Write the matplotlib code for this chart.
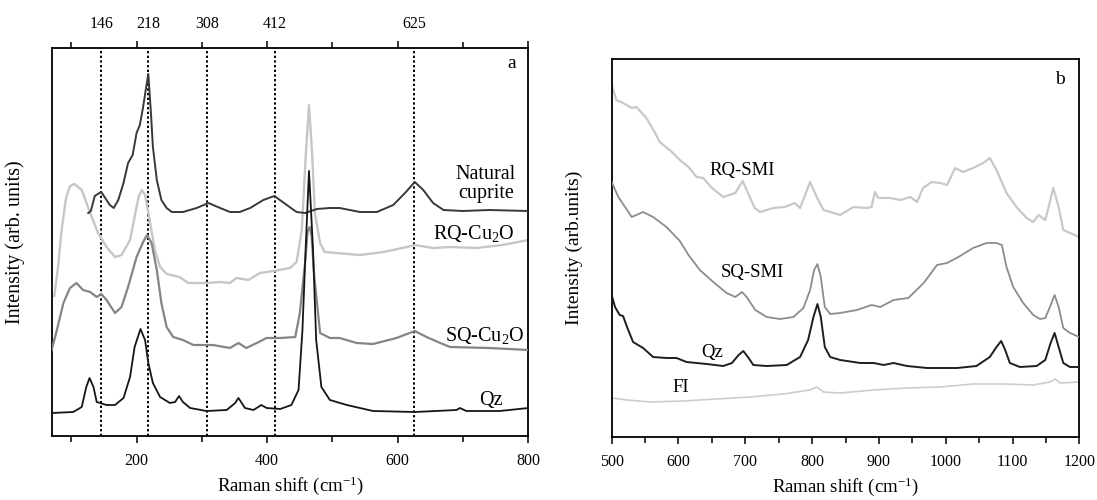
import matplotlib
matplotlib.use("Agg")
import matplotlib.pyplot as plt
from matplotlib.ticker import MultipleLocator

plt.rcParams['font.family'] = ['Liberation Serif', 'DejaVu Serif']
plt.rcParams['mathtext.fontset'] = 'custom'
plt.rcParams['mathtext.rm'] = 'Liberation Serif'
plt.rcParams['mathtext.it'] = 'Liberation Serif:italic'

# ---------------- panel a: Cu2O reference spectra ----------------
cuprite_x = [126, 130, 136, 143, 146, 152, 159, 165, 172, 180, 187, 194, 200, 205, 210,
             214, 218, 222, 225, 231, 238, 246, 254, 271, 292, 310, 328, 343, 358, 374,
             394, 411, 430, 445, 458, 476, 496, 511, 542, 568, 593, 611, 626, 639, 654,
             670, 700, 740, 800]
cuprite_y = [223, 225, 240, 243, 244, 238, 231, 228, 236, 253, 273, 281, 303, 311, 329,
             346, 362, 323, 289, 256, 236, 228, 224, 224, 228, 233, 228, 224, 224, 228,
             236, 240, 231, 224, 223, 227, 228, 228, 224, 224, 231, 243, 254, 246, 233,
             226, 225, 226, 225]

rq_x = [74, 80, 85, 92, 98, 105, 116, 129, 141, 154, 167, 177, 190, 203, 208, 213, 220,
        228, 236, 246, 266, 279, 307, 328, 343, 353, 371, 389, 409, 435, 445, 453, 459,
        464, 469, 473, 481, 488, 506, 542, 578, 614, 626, 654, 680, 720, 760, 800]
rq_y = [140, 170, 205, 238, 250, 252, 246, 223, 203, 189, 179, 181, 196, 239, 246, 241,
        216, 186, 169, 162, 159, 153, 153, 154, 153, 158, 156, 163, 165, 168, 174, 206,
        280, 331, 280, 223, 193, 184, 183, 181, 184, 189, 191, 188, 189, 188, 191, 196]

sq_x = [70, 78, 88, 98, 108, 118, 129, 139, 146, 154, 167, 177, 187, 200, 210, 216, 223,
        231, 238, 246, 256, 271, 287, 317, 343, 356, 368, 384, 399, 420, 443, 450, 458,
        462, 465, 468, 472, 481, 496, 511, 537, 562, 598, 626, 644, 665, 680, 740, 800]
sq_y = [86, 106, 133, 148, 153, 146, 144, 139, 142, 136, 123, 129, 149, 179, 194, 201, 193,
        166, 133, 109, 99, 96, 91, 91, 88, 93, 88, 93, 98, 98, 99, 123, 173, 205, 209, 200,
        160, 103, 98, 98, 93, 92, 98, 105, 99, 93, 89, 88, 86]

qz_a_x = [70, 103, 116, 123, 128, 134, 139, 154, 167, 180, 190, 197, 206, 213, 218, 225,
          236, 251, 259, 265, 271, 282, 307, 338, 351, 356, 366, 379, 391, 399, 420, 437,
          448, 454, 459, 464, 470, 475, 483, 496, 522, 562, 626, 690, 695, 705, 756, 800]
qz_a_y = [23, 24, 29, 49, 58, 49, 34, 31, 31, 38, 59, 89, 107, 96, 73, 53, 39, 33, 34,
          40, 34, 28, 25, 26, 33, 38, 28, 26, 31, 28, 27, 31, 46, 106, 189, 265, 189, 96,
          49, 36, 31, 25, 24, 26, 28, 25, 25, 28]

marker_pos = [146, 218, 308, 412, 625]

# ---------------- panel b: inclusion spectra ----------------
rqsmi_x = [500, 507, 517, 530, 537, 552, 565, 572, 590, 602, 615, 627, 637, 650, 667, 685,
           696, 704, 714, 722, 742, 759, 774, 782, 797, 807, 817, 832, 842, 862, 882, 889,
           894, 899, 917, 932, 947, 957, 966, 979, 992, 1002, 1014, 1026, 1041, 1056, 1066,
           1076, 1091, 1106, 1121, 1131, 1139, 1149, 1154, 1161, 1169, 1176, 1186, 1200]
rqsmi_y = [352, 337, 334, 329, 330, 319, 304, 295, 285, 277, 270, 260, 259, 249, 240, 244,
           256, 244, 229, 225, 229, 230, 234, 229, 255, 240, 227, 224, 222, 230, 229, 230,
           245, 239, 239, 237, 240, 235, 249, 255, 254, 252, 269, 265, 269, 274, 279, 267,
           244, 230, 219, 215, 222, 217, 230, 249, 230, 207, 204, 200]

sqsmi_x = [500, 510, 520, 530, 547, 562, 582, 602, 615, 632, 652, 672, 685, 695, 702, 715,
           732, 752, 772, 787, 797, 803, 808, 813, 819, 827, 842, 867, 889, 902, 922, 944,
           967, 987, 1002, 1019, 1041, 1061, 1076, 1084, 1091, 1101, 1116, 1131, 1141,
           1149, 1156, 1163, 1169, 1176, 1186, 1200]
sqsmi_y = [255, 240, 230, 220, 225, 220, 210, 196, 182, 167, 155, 144, 140, 145, 140, 127,
           120, 118, 120, 129, 147, 167, 173, 160, 130, 123, 124, 127, 132, 130, 137, 139,
           154, 172, 174, 180, 189, 194, 194, 192, 170, 150, 134, 122, 118, 119, 130, 142,
           130, 109, 104, 100]

qz_b_x = [500, 505, 512, 517, 523, 532, 547, 562, 582, 597, 612, 642, 667, 680, 690, 697,
          705, 712, 732, 762, 782, 794, 802, 808, 813, 819, 827, 842, 872, 892, 907, 922,
          942, 972, 1017, 1046, 1066, 1076, 1083, 1089, 1096, 1111, 1136, 1149, 1157, 1163,
          1169, 1176, 1186, 1200]
qz_b_y = [142, 130, 122, 121, 110, 95, 89, 80, 79, 79, 75, 73, 71, 74, 82, 86, 79, 72, 71,
          72, 80, 97, 120, 133, 120, 90, 80, 77, 74, 74, 72, 74, 71, 69, 69, 71, 80, 90, 96,
          87, 74, 70, 71, 77, 94, 104, 90, 74, 70, 70]

fi_x = [500, 523, 557, 607, 657, 707, 757, 797, 807, 817, 842, 892, 942, 992, 1041, 1091,
        1131, 1156, 1164, 1171, 1200]
fi_y = [39, 37, 35, 36, 38, 40, 43, 47, 50, 45, 44, 47, 49, 50, 53, 53, 52, 55, 58, 54, 55]

# ---------------- figure ----------------
fig = plt.figure(figsize=(10.97, 5.0), dpi=100)
ax_a = fig.add_axes([0.0471, 0.128, 0.4346, 0.776])
ax_b = fig.add_axes([0.5576, 0.126, 0.4263, 0.756])

for ax in (ax_a, ax_b):
    for sp in ax.spines.values():
        sp.set_linewidth(1.3)
    ax.set_yticks([])
    ax.tick_params(axis='x', which='major', direction='out', length=5, width=1.1,
                   labelsize=11.5, pad=7)
    ax.tick_params(axis='x', which='minor', direction='out', length=4, width=1.1)

# panel a
for xp in marker_pos:
    ax_a.axvline(xp, color='black', lw=1.4, ls=(0, (1.2, 1.2)), zorder=1)
ax_a.plot(rq_x, rq_y, color='#c6c6c6', lw=1.7, zorder=2)
ax_a.plot(sq_x, sq_y, color='#858585', lw=1.6, zorder=3)
ax_a.plot(cuprite_x, cuprite_y, color='#383838', lw=1.4, zorder=4)
ax_a.plot(qz_a_x, qz_a_y, color='#151515', lw=1.3, zorder=5)
ax_a.set_xlim(70, 800)
ax_a.set_ylim(0, 388)
ax_a.xaxis.set_major_locator(MultipleLocator(200))
ax_a.xaxis.set_minor_locator(MultipleLocator(100))
ax_a.tick_params(axis='x', which='both', top=True)

tr_a = ax_a.get_xaxis_transform()
for xp in marker_pos:
    ax_a.text(xp, 1.062, str(xp), transform=tr_a, ha='center', va='center', fontsize=11.5)

ax_a.text(735, 252, 'Natural\ncuprite', ha='center', va='center', fontsize=14.5,
          multialignment='center', linespacing=1.0)
ax_a.text(716, 203, r'RQ-Cu$_\mathregular{2}$O', ha='center', va='center', fontsize=14.5)
ax_a.text(733, 101, r'SQ-Cu$_\mathregular{2}$O', ha='center', va='center', fontsize=14.5)
ax_a.text(743, 36, 'Qz', ha='center', va='center', fontsize=14.5)
ax_a.text(774, 372, 'a', ha='center', va='center', fontsize=14)
ax_a.set_xlabel(r'Raman shift (cm$^{\mathregular{-1}}$)', fontsize=13.5, labelpad=4)
ax_a.set_ylabel('Intensity (arb. units)', fontsize=14.5)
ax_a.yaxis.set_label_coords(-0.055, 0.5)

# panel b
ax_b.plot(fi_x, fi_y, color='#cdcdcd', lw=1.2, zorder=2)
ax_b.plot(rqsmi_x, rqsmi_y, color='#c8c8c8', lw=1.6, zorder=2)
ax_b.plot(sqsmi_x, sqsmi_y, color='#8c8c8c', lw=1.3, zorder=3)
ax_b.plot(qz_b_x, qz_b_y, color='#1e1e1e', lw=1.4, zorder=4)
ax_b.set_xlim(500, 1200)
ax_b.set_ylim(0, 378)
ax_b.xaxis.set_major_locator(MultipleLocator(100))
ax_b.xaxis.set_minor_locator(MultipleLocator(50))

ax_b.text(695, 267, 'RQ-SMI', ha='center', va='center', fontsize=13.5)
ax_b.text(711, 164, 'SQ-SMI', ha='center', va='center', fontsize=13.5)
ax_b.text(650, 84, 'Qz', ha='center', va='center', fontsize=13.5)
ax_b.text(603, 49, 'FI', ha='center', va='center', fontsize=13.5)
ax_b.text(1171, 358, 'b', ha='center', va='center', fontsize=14)
ax_b.set_xlabel(r'Raman shift (cm$^{\mathregular{-1}}$)', fontsize=13.5, labelpad=4)
ax_b.set_ylabel('Intensity (arb.units)', fontsize=14)
ax_b.yaxis.set_label_coords(-0.062, 0.5)

fig.savefig('out.png', dpi=100)
